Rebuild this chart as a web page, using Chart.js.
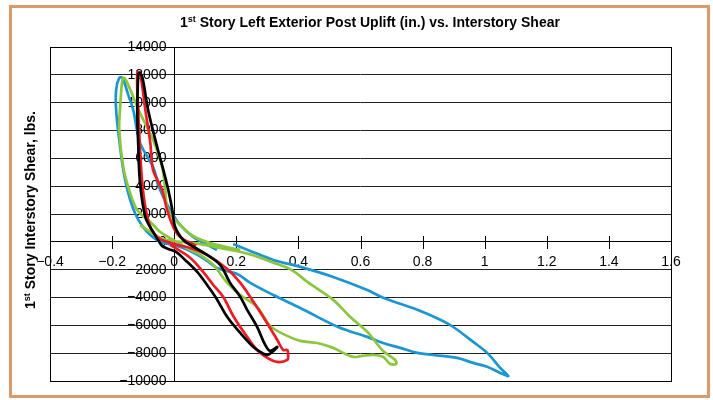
<!DOCTYPE html>
<html>
<head>
<meta charset="utf-8">
<script src="https://cdn.jsdelivr.net/npm/chart.js@4.4.1/dist/chart.umd.min.js"></script>
<style>
  html, body { margin: 0; padding: 0; background: #fff; }
</style>
</head>
<body>
<canvas id="upliftChart" width="713" height="400"></canvas>
<script>
// Axis ticks
const xTicks = [-0.4, -0.2, 0, 0.2, 0.4, 0.6, 0.8, 1, 1.2, 1.4, 1.6];
const yTicks = [-10000, -8000, -6000, -4000, -2000, 0, 2000, 4000, 6000, 8000, 10000, 12000, 14000];

// Blue trace
const blueX = [0.19, 0.245, 0.319, 0.406, 0.512, 0.622, 0.673, 0.783, 0.857, 0.899, 0.963, 1.008, 1.05, 1.076,
  1.05, 1.008, 0.963, 0.911, 0.834, 0.783, 0.728, 0.673, 0.622, 0.528, 0.406, 0.319, 0.245, 0.203, 0.138, 0.093,
  0.029, -0.045, -0.075, -0.1, -0.125, -0.148, -0.164, -0.177, -0.187, -0.187, -0.177, -0.167, -0.148, -0.132,
  -0.11, -0.068, -0.045, -0.013, 0.019, 0.061, 0.1, 0.138];
const blueY = [-150, -650, -1300, -1800, -2520, -3460, -4020, -4880, -5600, -6120, -7190, -7980, -9060, -9640,
  -9420, -8980, -8700, -8340, -8130, -7980, -7620, -7270, -6830, -6120, -4750, -3820, -2950, -2310, -1880, -1160,
  -440, 0, 450, 1050, 2000, 3500, 5170, 7320, 9470, 10910, 11780, 11780, 10560, 9470,
  7110, 5380, 3730, 2290, 1210, 350, -150, -580];

// Green trace
const greenX = [-0.11, -0.045, -0.003, 0.061, 0.148, 0.245, 0.32, 0.38, 0.43, 0.512, 0.567, 0.622, 0.673, 0.712,
  0.715, 0.696, 0.673, 0.644, 0.605, 0.576, 0.544, 0.512, 0.461, 0.406, 0.364, 0.309, 0.267, 0.213, 0.171, 0.126,
  0.084, 0.035, -0.003, -0.045, -0.077, -0.119, -0.142, -0.164, -0.177, -0.174, -0.167, -0.161, -0.151, -0.11,
  -0.068, -0.039, -0.029, -0.023, -0.006, 0.061, 0.138, 0.213];
const greenY = [1210, 280, 60, -80, -440, -900, -1500, -2050, -2900, -4170, -5400, -6470, -7840, -8490,
  -8780, -8780, -8270, -8130, -8200, -8270, -7980, -7620, -7270, -7120, -6760, -6040, -4680, -3820, -2950, -1660,
  -940, -370, 140, 710, 1430, 2290, 3510, 5380, 8040, 9690, 11630, 11780, 11420, 9260,
  7320, 5380, 3730, 2510, 1790, 420, -220, -580];

// Red trace
const redX = [-0.013, 0.052, 0.093, 0.126, 0.158, 0.192, 0.235, 0.267, 0.3, 0.332, 0.364, 0.367, 0.364, 0.351,
  0.332, 0.287, 0.245, 0.213, 0.171, 0.106, 0.052, 0.01, -0.039, -0.055, -0.077, -0.093, -0.103, -0.11, -0.116,
  -0.119, -0.11, -0.093, -0.077, -0.068, -0.039, -0.023, -0.003, 0.019, 0.071];
const redY = [-220, -1160, -2160, -3100, -3960, -5400, -6830, -7770, -8340, -8630, -8490, -8130, -7770, -7770,
  -7050, -5400, -3960, -2950, -1950, -940, -440, -220, 140, 350, 1070, 2510, 4230, 6600, 9480,
  12140, 12140, 9480, 7110, 5170, 3730, 2290, 1070, 350, -290];

// Black trace
const blackX = [-0.116, -0.119, -0.116, -0.11, -0.093, -0.068, -0.052, -0.039, -0.019, 0.006, 0.035, 0.074, 0.106,
  0.135, 0.171, 0.213, 0.255, 0.283, 0.3, 0.316, 0.332, 0.309, 0.293, 0.267, 0.235, 0.213, 0.18, 0.148, 0.106,
  0.052, 0.029, 0.003, -0.006, -0.019, -0.035, -0.05, -0.065, -0.084, -0.103, -0.113];
const blackY = [12140, 9480, 7110, 4230, 1790, 710, 140, -290, -510, -730, -1300, -2160, -3100,
  -4030, -5400, -6550, -7550, -7980, -8130, -7910, -7550, -7840, -7410, -6110, -4890, -3960, -2950, -1660, -940,
  -220, 140, 1070, 2290, 3730, 5170, 6400, 7700, 9480, 11850, 12210];

const toPoints = (xs, ys) => xs.map((x, i) => ({ x: x, y: ys[i] }));
const fontFamily = '"Liberation Sans", Arial, sans-serif';
const minus = s => String(s).replace('-', '\u2212');

// draw "1st ..." with a raised "st"
function drawSup(ctx, x, y, lead, sup, rest, size) {
  const big = 'bold ' + size + 'px ' + fontFamily;
  const small = 'bold ' + Math.round(size * 0.62) + 'px ' + fontFamily;
  ctx.font = big;
  const w1 = ctx.measureText(lead).width;
  const w3 = ctx.measureText(rest).width;
  ctx.font = small;
  const w2 = ctx.measureText(sup).width;
  let cx = x - (w1 + w2 + w3) / 2;
  ctx.textAlign = 'left';
  ctx.textBaseline = 'alphabetic';
  ctx.font = big;
  ctx.fillText(lead, cx, y);
  cx += w1;
  ctx.font = small;
  ctx.fillText(sup, cx, y - size * 0.38);
  cx += w2;
  ctx.font = big;
  ctx.fillText(rest, cx, y);
}

const decor = {
  id: 'decor',
  beforeDraw(chart) {
    const ctx = chart.ctx;
    ctx.save();
    ctx.fillStyle = '#fff';
    ctx.fillRect(0, 0, chart.width, chart.height);
    ctx.strokeStyle = '#dc9a6a';
    ctx.lineWidth = 3;
    ctx.strokeRect(10.5, 6.5, 698, 390);
    ctx.restore();
  },
  beforeDatasetsDraw(chart) {
    const { ctx, chartArea: a, scales } = chart;
    ctx.save();
    ctx.strokeStyle = '#000';
    ctx.lineWidth = 1;
    ctx.strokeRect(Math.round(a.left) + 0.5, Math.round(a.top) + 0.5,
      Math.round(a.right - a.left), Math.round(a.bottom - a.top));
    // cross tick marks on the x axis
    const y0 = Math.round(scales.y.getPixelForValue(0));
    ctx.beginPath();
    xTicks.forEach(v => {
      if (v === 0) return;
      const px = Math.round(scales.x.getPixelForValue(v)) + 0.5;
      ctx.moveTo(px, y0 - 6);
      ctx.lineTo(px, y0 + 7);
    });
    ctx.stroke();
    ctx.restore();
  },
  afterDraw(chart) {
    const { ctx, chartArea: a } = chart;
    ctx.save();
    ctx.fillStyle = '#000';
    drawSup(ctx, 370, 27, '1', 'st', ' Story Left Exterior Post Uplift (in.) vs. Interstory Shear', 14);
    ctx.translate(35, (a.top + a.bottom) / 2 - 4);
    ctx.rotate(-Math.PI / 2);
    drawSup(ctx, 0, 0, '1', 'st', ' Story Interstory Shear, lbs.', 14);
    ctx.restore();
  }
};

const ctx = document.getElementById('upliftChart').getContext('2d');
new Chart(ctx, {
  type: 'scatter',
  data: {
    datasets: [
      { data: toPoints(blackX, blackY), borderColor: '#000000', order: 1 },
      { data: toPoints(redX, redY), borderColor: '#ed1c24', order: 2 },
      { data: toPoints(greenX, greenY), borderColor: '#8cc63f', order: 3 },
      { data: toPoints(blueX, blueY), borderColor: '#1a96d4', order: 4 }
    ]
  },
  options: {
    responsive: false,
    animation: false,
    showLine: true,
    layout: { padding: { left: 50, top: 47, right: 42, bottom: 19 } },
    elements: {
      point: { radius: 0, hoverRadius: 0 },
      line: { borderWidth: 2.7, tension: 0.35, fill: false }
    },
    plugins: {
      legend: { display: false },
      title: { display: false },
      tooltip: { enabled: false }
    },
    scales: {
      x: {
        type: 'linear',
        position: { y: 0 },
        min: -0.4,
        max: 1.6,
        afterBuildTicks: s => { s.ticks = xTicks.map(v => ({ value: v })); },
        grid: { drawOnChartArea: false, drawTicks: false },
        border: { display: true, color: '#000', width: 1 },
        ticks: {
          padding: 12,
          color: '#000',
          font: { family: fontFamily, size: 14 },
          maxRotation: 0,
          autoSkip: false,
          callback: v => minus(v)
        }
      },
      y: {
        type: 'linear',
        position: { x: 0 },
        min: -10000,
        max: 14000,
        afterBuildTicks: s => { s.ticks = yTicks.map(v => ({ value: v })); },
        grid: { color: '#222', lineWidth: 1, drawTicks: false },
        border: { display: true, color: '#000', width: 1 },
        ticks: {
          color: '#000',
          font: { family: fontFamily, size: 14 },
          autoSkip: false,
          callback: v => minus(v) + '  '
        }
      }
    }
  },
  plugins: [decor]
});
</script>
</body>
</html>
